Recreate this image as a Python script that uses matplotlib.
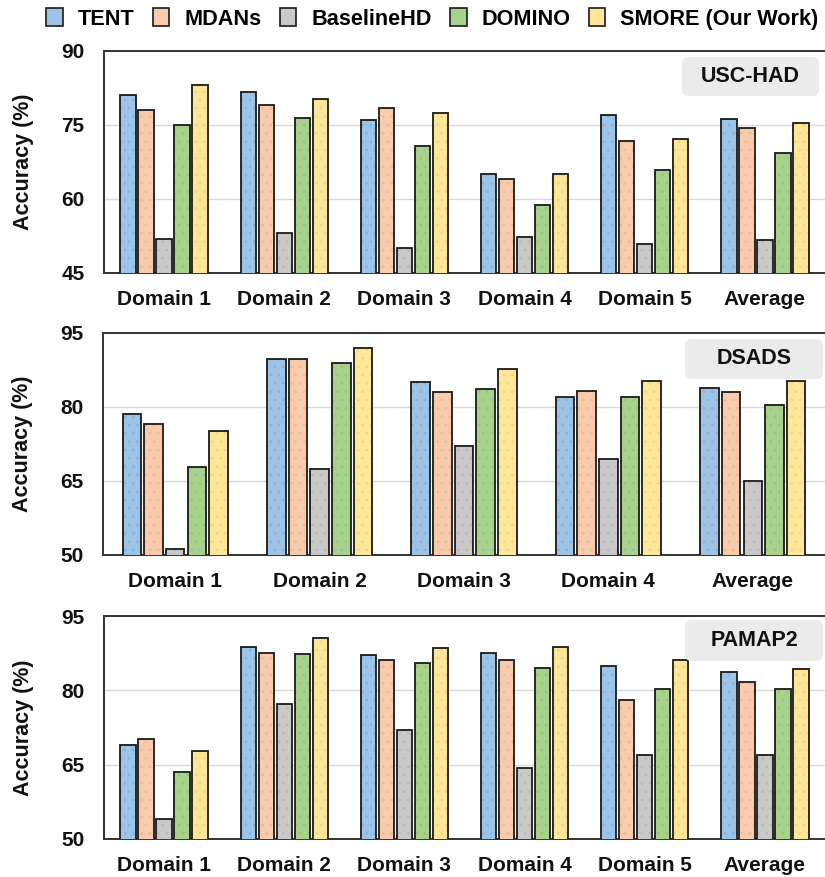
import matplotlib
matplotlib.use("Agg")
import matplotlib.pyplot as plt
from matplotlib.patches import Patch, FancyBboxPatch
import numpy as np

plt.rcParams['font.family'] = ['Liberation Sans', 'DejaVu Sans']
plt.rcParams['font.weight'] = 'bold'
plt.rcParams['hatch.linewidth'] = 0.6

methods = ["TENT", "MDANs", "BaselineHD", "DOMINO", "SMORE (Our Work)"]
colors = ["#9DC3E6", "#F8CBAD", "#C9C9C9", "#A9D18E", "#FFE699"]
hatch_colors = ["#86B2DC", "#EDB898", "#B8B8B8", "#98C37C", "#F0D585"]

usc_cats = ["Domain 1", "Domain 2", "Domain 3", "Domain 4", "Domain 5", "Average"]
usc_tent = [81.0, 81.6, 76.1, 65.0, 77.0, 76.2]
usc_mdans = [78.0, 79.1, 78.4, 64.0, 71.8, 74.3]
usc_base = [51.9, 53.2, 50.0, 52.3, 50.8, 51.6]
usc_domino = [75.0, 76.5, 70.7, 58.8, 65.9, 69.3]
usc_smore = [83.1, 80.2, 77.4, 65.0, 72.1, 75.5]

dsads_cats = ["Domain 1", "Domain 2", "Domain 3", "Domain 4", "Average"]
dsads_tent = [78.6, 89.8, 85.1, 82.0, 83.9]
dsads_mdans = [76.6, 89.7, 83.1, 83.2, 83.1]
dsads_base = [51.2, 67.4, 72.0, 69.5, 65.0]
dsads_domino = [67.9, 89.0, 83.6, 82.0, 80.5]
dsads_smore = [75.1, 91.9, 87.8, 85.3, 85.2]

pamap_cats = ["Domain 1", "Domain 2", "Domain 3", "Domain 4", "Domain 5", "Average"]
pamap_tent = [69.0, 88.7, 87.2, 87.6, 84.9, 83.6]
pamap_mdans = [70.1, 87.6, 86.2, 86.1, 78.1, 81.6]
pamap_base = [54.1, 77.2, 72.0, 64.3, 66.9, 66.9]
pamap_domino = [63.5, 87.4, 85.6, 84.6, 80.2, 80.2]
pamap_smore = [67.8, 90.5, 88.6, 88.7, 86.1, 84.3]

panels = [
    ("USC-HAD", usc_cats, [usc_tent, usc_mdans, usc_base, usc_domino, usc_smore], (45, 90), [45, 60, 75, 90]),
    ("DSADS", dsads_cats, [dsads_tent, dsads_mdans, dsads_base, dsads_domino, dsads_smore], (50, 95), [50, 65, 80, 95]),
    ("PAMAP2", pamap_cats, [pamap_tent, pamap_mdans, pamap_base, pamap_domino, pamap_smore], (50, 95), [50, 65, 80, 95]),
]

W, H = 825, 877
fig = plt.figure(figsize=(W / 100, H / 100), dpi=100)

# axes pixel boxes: (left, top, bottom)
ax_px = [(104, 51, 273), (103, 333, 555), (104, 616, 839)]
box_px = [(682, 57, 819, 96), (685, 339, 823, 379), (685, 620, 823, 661)]

step = 0.15
width = 0.128
for (name, cats, series, ylim, yticks), (l, t, b), (bx0, by0, bx1, by1) in zip(panels, ax_px, box_px):
    ax = fig.add_axes([l / W, 1 - b / H, 1 - l / W, (b - t) / H])
    x = np.arange(len(cats))
    for i, vals in enumerate(series):
        pos = x + (i - 2) * step
        ax.bar(pos, vals, width, color=colors[i], edgecolor=hatch_colors[i], hatch='..',
               linewidth=0, zorder=3)
        ax.bar(pos, vals, width, fill=False, edgecolor="#1a1a1a", linewidth=1.3, zorder=4)
    ax.set_xlim(-0.5, len(cats) - 0.5)
    ax.set_ylim(*ylim)
    ax.set_yticks(yticks)
    ax.set_xticks(x)
    ax.set_xticklabels(cats)
    ax.tick_params(axis='both', length=0, labelsize=15, colors="#111111")
    ax.tick_params(axis='y', pad=14)
    ax.tick_params(axis='x', pad=12)
    for lab in ax.get_xticklabels() + ax.get_yticklabels():
        lab.set_fontweight('bold')
    ax.grid(axis='y', color="#D9D9D9", linewidth=1.0, zorder=0)
    ax.set_axisbelow(True)
    for s in ['top', 'left', 'bottom']:
        ax.spines[s].set_color("#333333")
        ax.spines[s].set_linewidth(1.4)
    ax.spines['right'].set_visible(False)
    ax.set_ylabel("Accuracy (%)", fontsize=15.5, fontweight='bold', color="#111111")
    ax.yaxis.set_label_coords(-0.097, 0.5)
    # dataset label box
    box = FancyBboxPatch((bx0 / W, 1 - by1 / H), (bx1 - bx0) / W, (by1 - by0) / H,
                         boxstyle="round,pad=0,rounding_size=0.008",
                         transform=fig.transFigure, facecolor="#EBEBEB", edgecolor="none", zorder=5)
    fig.patches.append(box)
    fig.text((bx0 + bx1) / 2 / W, 1 - (by0 + by1) / 2 / H, name, ha='center', va='center',
             fontsize=15.5, fontweight='bold', color="#111111", zorder=6)

handles = [Patch(facecolor=c, edgecolor="#1a1a1a", linewidth=1.2) for c in colors]
fig.legend(handles, methods, loc='center', bbox_to_anchor=(0.524, 1 - 19 / H), ncol=5, frameon=False,
           handlelength=0.78, handleheight=0.9, handletextpad=0.69, columnspacing=0.83,
           borderpad=0, prop={'weight': 'bold', 'size': 15.6})

fig.savefig("out.png", dpi=100)
